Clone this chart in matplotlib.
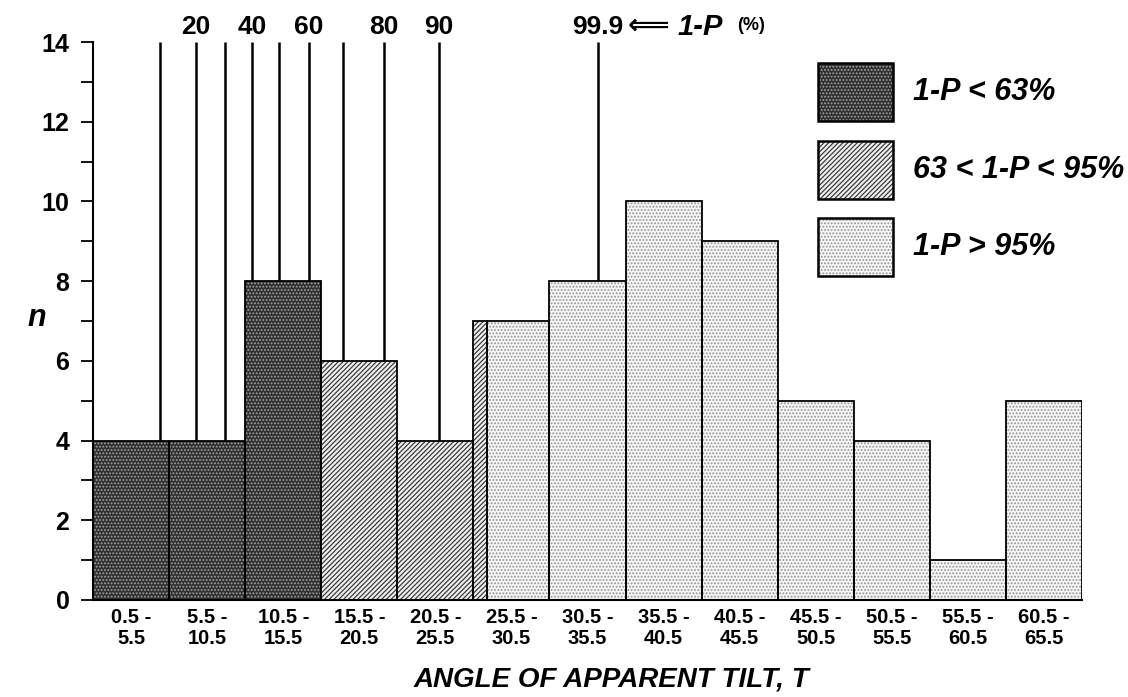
import matplotlib.pyplot as plt
from matplotlib.patches import Rectangle
from matplotlib.ticker import MultipleLocator

plt.rcParams['font.family'] = ['Liberation Sans', 'DejaVu Sans']
plt.rcParams['font.weight'] = 'bold'
plt.rcParams['hatch.linewidth'] = 0.9

# histogram of apparent tilt in 5 degree bins
bin_edges = [0.5, 5.5, 10.5, 15.5, 20.5, 25.5, 30.5, 35.5, 40.5, 45.5, 50.5, 55.5, 60.5, 65.5]
counts = [4, 4, 8, 6, 4, 7, 8, 10, 9, 5, 4, 1, 5]
tick_labels = ['0.5 -\n5.5', '5.5 -\n10.5', '10.5 -\n15.5', '15.5 -\n20.5', '20.5 -\n25.5',
               '25.5 -\n30.5', '30.5 -\n35.5', '35.5 -\n40.5', '40.5 -\n45.5', '45.5 -\n50.5',
               '50.5 -\n55.5', '55.5 -\n60.5', '60.5 -\n65.5']

# tilt at which the confidence level 1-P (%) is reached
pct_levels = [10, 20, 30, 40, 50, 60, 70, 80, 90, 99.9]
pct_tilt = [4.9, 7.25, 9.17, 10.95, 12.72, 14.67, 16.93, 19.6, 23.25, 33.7]
pct_shown = ['20', '40', '60', '80', '90', '99.9']

# tilt limits of the three confidence classes
limit_63 = 15.5
limit_95 = 26.4

classes = ['low', 'mid', 'high']
class_labels = ['1-P < 63%', '63 < 1-P < 95%', '1-P > 95%']
styles = {
    'low': dict(facecolor='#303030', edgecolor='#a0a0a0', hatch='.....'),
    'mid': dict(facecolor='#f2f2f2', edgecolor='#3a3a3a', hatch='///////'),
    'high': dict(facecolor='#f6f6f6', edgecolor='#959595', hatch='.....'),
}


def tilt_class(x0, x1):
    if x1 <= limit_63:
        return 'low'
    if x0 >= limit_95:
        return 'high'
    return 'mid'


fig = plt.figure(figsize=(11.28, 6.97), dpi=100)
ax = fig.add_axes([0.08245, 0.13917, 0.87677, 0.80057])

# percentile lines behind the bars
ax.vlines(pct_tilt, 0, 14, color='black', linewidth=1.8, zorder=1)
for lvl, x in zip(pct_levels, pct_tilt):
    if f'{lvl:g}' in pct_shown:
        ax.text(x, 14.38, f'{lvl:g}', ha='center', va='center', fontsize=19)

top = (pct_tilt[-1], 14.38)
ax.annotate('\u27f8', xy=top, xytext=(29, 1), textcoords='offset pixels', annotation_clip=False,
            ha='left', va='center', fontsize=21, family=['DejaVu Sans'])
ax.annotate('1-P', xy=top, xytext=(79, 0), textcoords='offset pixels', annotation_clip=False,
            ha='left', va='center', fontsize=21, style='italic')
ax.annotate('(%)', xy=top, xytext=(139, 1), textcoords='offset pixels', annotation_clip=False,
            ha='left', va='center', fontsize=13)

# bars, split where a class limit falls inside a bin
for i, h in enumerate(counts):
    x0, x1 = bin_edges[i], bin_edges[i + 1]
    cuts = [x0] + [c for c in (limit_63, limit_95) if x0 < c < x1] + [x1]
    for a, b in zip(cuts[:-1], cuts[1:]):
        st = styles[tilt_class(a, b)]
        ax.bar(a, h, width=b - a, align='edge', linewidth=0, zorder=2, **st)
        ax.bar(a, h, width=b - a, align='edge', fill=False, edgecolor='black',
               linewidth=1.3, zorder=3)

# legend boxes
for k, (cl, lab) in enumerate(zip(classes, class_labels)):
    y0 = 0.8584 - k * 0.1390
    ax.add_patch(Rectangle((0.733, y0), 0.0758, 0.104, transform=ax.transAxes,
                           linewidth=0, zorder=4, clip_on=False, **styles[cl]))
    ax.add_patch(Rectangle((0.733, y0), 0.0758, 0.104, transform=ax.transAxes, fill=False,
                           edgecolor='black', linewidth=1.8, zorder=5, clip_on=False))
    ax.text(0.829, y0 + 0.052, lab, transform=ax.transAxes, ha='left', va='center',
            fontsize=22, style='italic')

centers = [(bin_edges[i] + bin_edges[i + 1]) / 2 for i in range(len(counts))]
ax.set_xticks(centers)
ax.set_xticklabels(tick_labels, fontsize=14.5, linespacing=1.1)
ax.tick_params(axis='x', length=0, pad=6)
ax.set_xlim(bin_edges[0], bin_edges[-1])
ax.set_ylim(0, 14)
ax.yaxis.set_major_locator(MultipleLocator(2))
ax.yaxis.set_minor_locator(MultipleLocator(1))
ax.tick_params(axis='y', which='both', length=9, width=1.3, pad=8, labelsize=18)

for s in ('top', 'right'):
    ax.spines[s].set_visible(False)
for s in ('left', 'bottom'):
    ax.spines[s].set_linewidth(1.5)

ax.set_ylabel('n', rotation=0, fontsize=22, fontweight='bold', style='italic',
              va='center', ha='center')
ax.yaxis.set_label_coords(-0.057, 0.505)
ax.set_xlabel('ANGLE OF APPARENT TILT, T', fontsize=20, fontweight='bold', style='italic',
              va='center')
ax.xaxis.set_label_coords(0.524, -0.143)

fig.savefig('out.png', dpi=100)
